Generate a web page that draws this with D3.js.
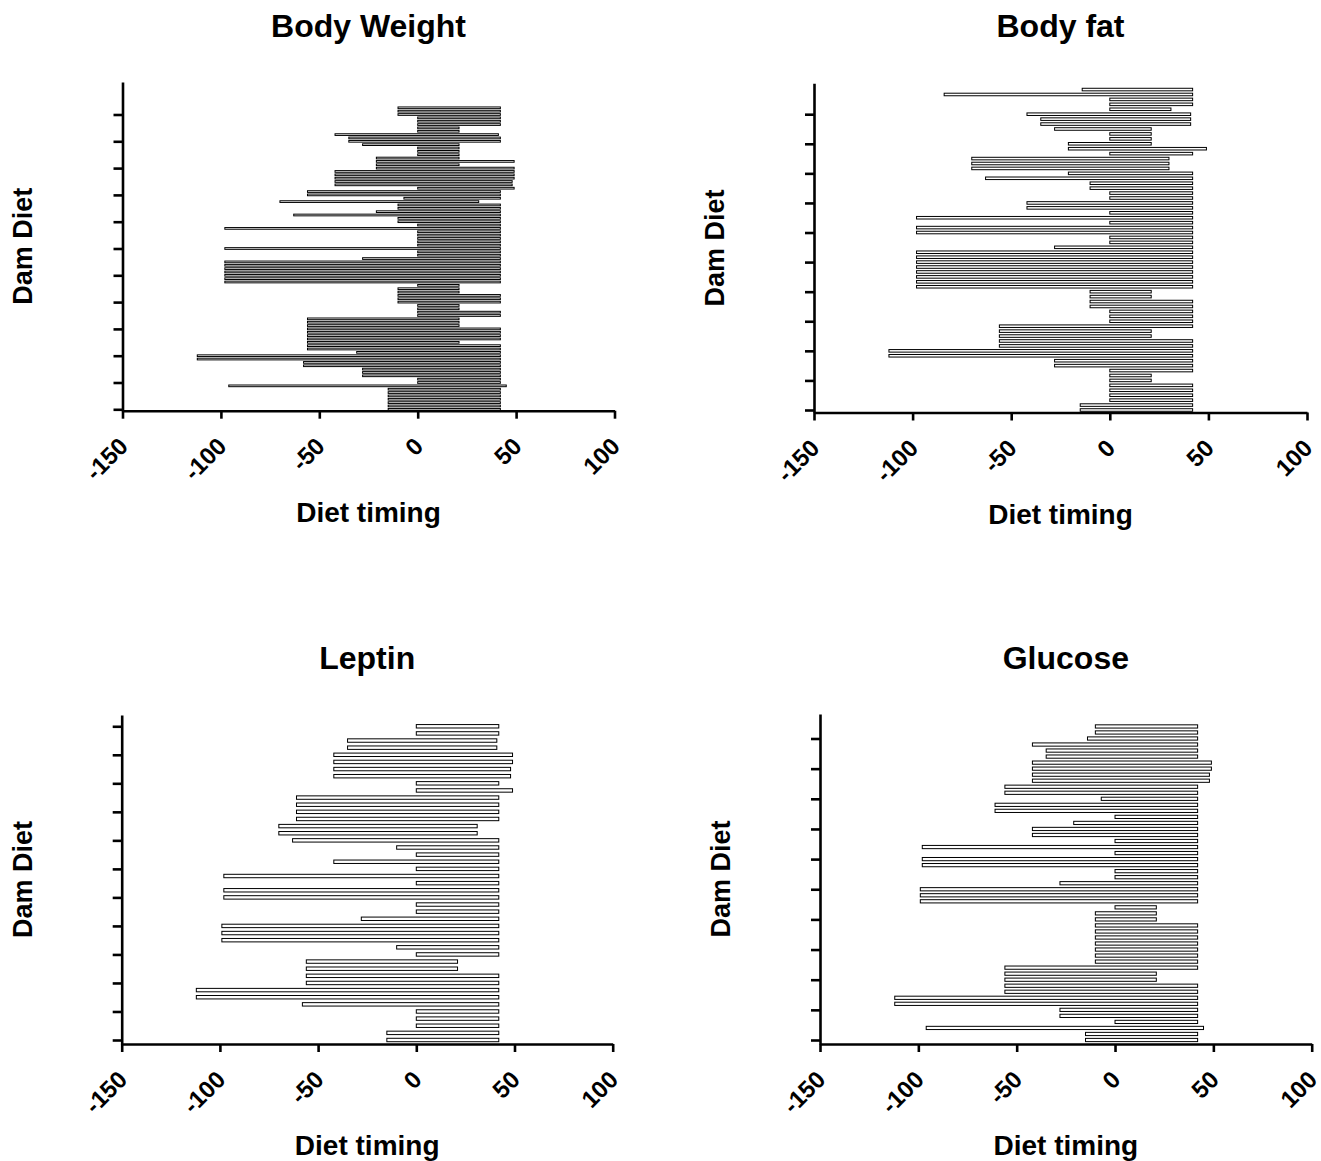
<!DOCTYPE html>
<html>
<head>
<meta charset="utf-8">
<script src="https://cdn.jsdelivr.net/npm/d3@7"></script>
<style>
  body { margin: 0; background: #fff; }
  text { font-family: "Liberation Sans", Arial, Helvetica, sans-serif; font-weight: bold; fill: #000; }
</style>
</head>
<body>
<svg id="chart" width="1321" height="1161"></svg>
<script>
// Floating bars: each row is one dam-diet exposure window (days relative to birth),
// listed from the top row of each panel down to the bottom row.
const panelTitles = ["Body Weight", "Body fat", "Leptin", "Glucose"];
const xTickValues = [-150, -100, -50, 0, 50, 100];
const xAxisTitle = "Diet timing";
const yAxisTitle = "Dam Diet";

const bodyWeightStart = [
  -10, -10, -10, 0, 0, 0, 0, 0, -42, -35, -35, -28, 0, 0, 0, -21, -21, -21, -21,
  -42, -42, -42, -42, -42, 0, -56, -56, -7, -70, -10, -10, -21, -63, -10, -10, 0,
  -98, 0, 0, 0, 0, 0, -98, 0, 0, -28, -98, -98, -98, -98, -98, -98, -98, 0, -10,
  -10, -10, -10, -10, 0, 0, 0, 0, -56, -56, -56, -56, -56, -56, -56, -56, -56, -56,
  -31, -112, -112, -58, -58, -28, -28, -28, 0, 0, -96, -15, -15, -15, -15, -15, -15, -15
];
const bodyWeightEnd = [
  42, 42, 42, 42, 42, 42, 21, 21, 41, 42, 42, 21, 21, 21, 21, 21, 49, 21, 49,
  49, 49, 49, 48, 48, 49, 42, 42, 42, 31, 42, 42, 42, 42, 42, 42, 42,
  42, 42, 42, 42, 42, 42, 42, 42, 42, 42, 42, 42, 42, 42, 42, 42, 42, 21, 21,
  21, 42, 42, 42, 21, 21, 42, 42, 21, 21, 21, 42, 42, 42, 42, 21, 42, 42,
  42, 42, 42, 42, 42, 42, 42, 42, 42, 42, 45, 42, 42, 42, 42, 42, 42, 42
];

const bodyFatStart = [
  -14, -84, 0, 0, 0, -42, -35, -35, -28, 0, 0, -21, -21, 0, -70, -70, -70, -21,
  -63, -10, -10, 0, 0, -42, -42, 0, -98, 0, -98, -98, 0, 0, -28, -98, -98, -98,
  -98, -98, -98, -98, -98, -10, -10, -10, -10, 0, 0, 0, -56, -56, -56, -56, -56,
  -112, -112, -28, -28, 0, 0, 0, 0, 0, 0, 0, -15, -15
];
const bodyFatEnd = [
  42, 42, 42, 42, 31, 41, 41, 41, 21, 21, 21, 21, 49, 42, 30, 30, 30, 42,
  42, 42, 42, 42, 42, 42, 42, 42, 42, 42, 42, 42, 42, 42, 42, 42, 42, 42,
  42, 42, 42, 42, 42, 21, 21, 42, 42, 42, 42, 42, 42, 21, 21, 42, 42,
  42, 42, 42, 42, 42, 21, 21, 42, 42, 42, 42, 42, 42
];

const leptinStart = [
  0, 0, -35, -35, -42, -42, -42, -42, 0, 0, -61, -61, -61, -61, -70, -70, -63,
  -10, 0, -42, 0, -98, 0, -98, -98, 0, 0, -28, -99, -99, -99, -10, 0, -56, -56,
  -56, -56, -112, -112, -58, 0, 0, 0, -15, -15
];
const leptinEnd = [
  42, 42, 41, 41, 49, 49, 48, 48, 42, 49, 42, 42, 42, 42, 31, 31, 42,
  42, 42, 42, 42, 42, 42, 42, 42, 42, 42, 42, 42, 42, 42, 42, 42, 21, 21,
  42, 42, 42, 42, 42, 42, 42, 42, 42, 42
];

const glucoseStart = [
  -10, -10, -14, -42, -35, -35, -42, -42, -42, -42, -56, -56, -7, -61, -61, 0,
  -21, -42, -42, 0, -98, 0, -98, -98, 0, 0, -28, -99, -99, -99, 0, -10, -10,
  -10, -10, -10, -10, -10, -10, -10, -56, -56, -56, -56, -56, -112, -112, -28,
  -28, 0, -96, -15, -15
];
const glucoseEnd = [
  42, 42, 42, 42, 42, 42, 49, 49, 48, 48, 42, 42, 42, 42, 42, 42,
  42, 42, 42, 42, 42, 42, 42, 42, 42, 42, 42, 42, 42, 42, 21, 21, 21,
  42, 42, 42, 42, 42, 42, 42, 42, 21, 21, 42, 42, 42, 42, 42,
  42, 42, 45, 42, 42
];

const panelStarts = [bodyWeightStart, bodyFatStart, leptinStart, glucoseStart];
const panelEnds = [bodyWeightEnd, bodyFatEnd, leptinEnd, glucoseEnd];

// Frame geometry of the four panels (pixels), row spacing of each y axis and bar fill fraction.
const frames = [
  { left: 122.5, right: 614.5, top: 82,   axisY: 410.7, firstRowY: 409.3, rowGap: 3.35, barFrac: 0.8,  tickEvery: 8, titleY: 37,  yLabelX: 32 },
  { left: 814,   right: 1307,  top: 83.3, axisY: 412.5, firstRowY: 410,   rowGap: 4.93, barFrac: 0.72, tickEvery: 6, titleY: 37,  yLabelX: 724 },
  { left: 121.7, right: 612.7, top: 715,  axisY: 1044,  firstRowY: 1040,  rowGap: 7.13, barFrac: 0.62, tickEvery: 4, titleY: 669, yLabelX: 32 },
  { left: 820,   right: 1311.7,top: 714,  axisY: 1044,  firstRowY: 1040,  rowGap: 6.03, barFrac: 0.7,  tickEvery: 5, titleY: 669, yLabelX: 730 }
];

const svg = d3.select("#chart");
svg.append("rect").attr("width", 1321).attr("height", 1161).attr("fill", "#fff");

frames.forEach((f, p) => {
  const starts = panelStarts[p];
  const ends = panelEnds[p];
  const n = starts.length;

  const x = d3.scaleLinear().domain([-150, 100]).range([f.left, f.right]);
  const lo = -(f.axisY - f.firstRowY) / f.rowGap;
  const hi = (f.firstRowY - f.top) / f.rowGap;
  const y = d3.scaleLinear().domain([lo, hi]).range([f.axisY, f.top]);

  const g = svg.append("g");

  // rows: index 0 is the bottom row
  const rows = starts.map((s, k) => ({ row: n - 1 - k, start: s, end: ends[k] }));
  const barH = f.rowGap * f.barFrac;
  const sw = 1.0;

  g.append("g").selectAll("rect").data(rows).join("rect")
    .attr("x", d => x(Math.min(d.start, d.end)))
    .attr("width", d => Math.abs(x(d.end) - x(d.start)))
    .attr("y", d => y(d.row) - (barH - sw) / 2)
    .attr("height", barH - sw)
    .attr("fill", "#fff")
    .attr("stroke", "#000")
    .attr("stroke-width", sw);

  // x axis
  const xAxis = g.append("g")
    .attr("transform", `translate(0,${f.axisY})`)
    .call(d3.axisBottom(x).tickValues(xTickValues).tickSize(8).tickSizeOuter(0).tickFormat(d => String(d)));
  xAxis.select(".domain").attr("stroke", "#000").attr("stroke-width", 2.6);
  xAxis.selectAll(".tick line").attr("stroke", "#000").attr("stroke-width", 2.6);
  xAxis.selectAll(".tick text")
    .attr("x", null).attr("y", null).attr("dy", null)
    .attr("text-anchor", "end")
    .attr("transform", "translate(6.5,37) rotate(-45)")
    .style("font-family", "'Liberation Sans', Arial, sans-serif")
    .style("font-weight", "bold")
    .style("font-size", "24px")
    .attr("fill", "#000");

  // y axis (row ticks, no labels)
  const yTicks = d3.range(0, n, f.tickEvery);
  const yAxis = g.append("g")
    .attr("transform", `translate(${f.left},0)`)
    .call(d3.axisLeft(y).tickValues(yTicks).tickSize(9).tickSizeOuter(0).tickFormat(""));
  yAxis.select(".domain").attr("stroke", "#000").attr("stroke-width", 2.6);
  yAxis.selectAll(".tick line").attr("stroke", "#000").attr("stroke-width", 2.6);

  // titles
  const cx = (f.left + f.right) / 2;
  g.append("text")
    .attr("x", cx).attr("y", f.titleY)
    .attr("text-anchor", "middle")
    .style("font-size", "32px")
    .text(panelTitles[p]);

  g.append("text")
    .attr("x", cx).attr("y", f.axisY + 111)
    .attr("text-anchor", "middle")
    .style("font-size", "28px")
    .text(xAxisTitle);

  g.append("text")
    .attr("transform", `translate(${f.yLabelX},${(f.top + f.axisY) / 2}) rotate(-90)`)
    .attr("text-anchor", "middle")
    .style("font-size", "27px")
    .text(yAxisTitle);
});
</script>
</body>
</html>
